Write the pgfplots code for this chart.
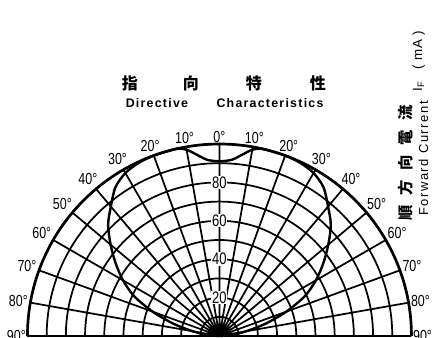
\documentclass[border=0pt]{standalone}
\usepackage{fontspec}
\setmainfont{Liberation Sans}
\newfontfamily\cjk{Noto Sans CJK JP}
\newfontfamily\narrow[FakeStretch=0.78]{Liberation Sans}
\usepackage{pgfplots}
\pgfplotsset{compat=1.18}
\usepgfplotslibrary{polar}

\begin{document}
\begin{tikzpicture}
\path[use as bounding box] (-164.6pt,-1.5pt) rectangle (162.4pt,252pt);
\begin{polaraxis}[
  at={(0pt,0pt)}, anchor=origin,
  scale only axis, width=288pt, height=288pt,
  xmin=0, xmax=180, ymin=0, ymax=100,
  xtick={0,10,...,180},
  xticklabels={90°,80°,70°,60°,50°,40°,30°,20°,10°,0°,10°,20°,30°,40°,50°,60°,70°,80°,90°},
  ytick={10,20,...,100},
  yticklabel=\empty,
  grid=major,
  major grid style={black, line width=1.3pt},
  axis line style={black, line width=2pt},
  major tick length=0pt,
  tick style={draw=none},
  xticklabel style={font=\narrow\fontsize{12}{12}\selectfont, inner sep=1pt},
  clip=false,
]
\addplot[black, line width=1.8pt, smooth] coordinates {
  (0,0) (5,6) (10,14) (15,25) (20,37) (25,49) (30,58) (35,66) (40,74)
  (45,82) (50,88) (55,94.5) (60,98) (65,99.5) (70,100) (77,100) (80,98.5)
  (83,95) (86,92) (90,91) (94,92) (97,95) (100,98.5) (103,100) (110,100)
  (115,99.5) (120,98) (125,94.5) (130,88) (135,82) (140,74) (145,66)
  (150,58) (155,49) (160,37) (165,25) (170,14) (175,6) (180,0)
};
\node[fill=white, inner sep=0.6pt, font=\narrow\fontsize{12.5}{12.5}\selectfont] at (axis cs:90,80) {80};
\node[fill=white, inner sep=0.6pt, font=\narrow\fontsize{12.5}{12.5}\selectfont] at (axis cs:90,60) {60};
\node[fill=white, inner sep=0.6pt, font=\narrow\fontsize{12.5}{12.5}\selectfont] at (axis cs:90,40) {40};
\node[fill=white, inner sep=0.6pt, font=\narrow\fontsize{12.5}{12.5}\selectfont] at (axis cs:90,20) {20};
\end{polaraxis}

% title
\begin{scope}[every node/.style={font=\cjk\bfseries\fontsize{12}{12}\selectfont}]
\node at (-67.1pt,189.75pt) {指};
\node at (-21.4pt,189.75pt) {向};
\node at (25.9pt,189.75pt) {特};
\node at (73.9pt,189.75pt) {性};
\end{scope}
\begin{scope}[every node/.style={font=\bfseries\addfontfeature{LetterSpace=10}\fontsize{9.3}{9.3}\selectfont}]
\node at (-46.9pt,174.75pt) {Directive};
\node at (37.9pt,174.75pt) {Characteristics};
\end{scope}

% side label
\node[rotate=90, font=\cjk\bfseries\fontsize{11.5}{11.5}\selectfont] at (139.9pt,130.1pt)
  {順\hspace{7.2pt}方\hspace{7.2pt}向\hspace{7.2pt}電\hspace{7.2pt}流};
\node[rotate=90, anchor=base, font=\addfontfeature{LetterSpace=12}\fontsize{9.75}{9.75}\selectfont] at (156.4pt,133.1pt)
  {Forward Current};
\node[rotate=90, anchor=base, font=\fontsize{10}{10}\selectfont] at (151.9pt,187.5pt)
  {I\textsubscript{F}};
\node[rotate=90, anchor=base, font=\fontsize{10}{10}\selectfont] at (151.9pt,214.5pt)
  {(\hspace{3pt}m\hspace{1pt}A\hspace{3pt})};
\end{tikzpicture}
\end{document}
